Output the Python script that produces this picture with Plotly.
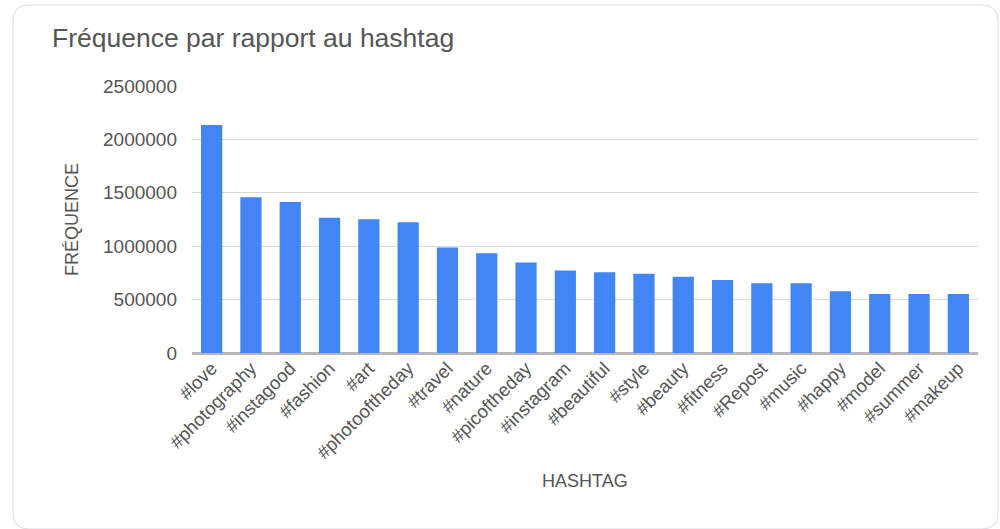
import plotly.graph_objects as go

# Hashtags and their frequency
hashtags = ["#love", "#photography", "#instagood", "#fashion", "#art",
            "#photooftheday", "#travel", "#nature", "#picoftheday", "#instagram",
            "#beautiful", "#style", "#beauty", "#fitness", "#Repost",
            "#music", "#happy", "#model", "#summer", "#makeup"]
frequence = [2135000, 1458000, 1414000, 1267000, 1252000,
             1224000, 988000, 934000, 847000, 772000,
             756000, 741000, 713000, 683000, 653000,
             653000, 578000, 553000, 553000, 553000]
y_ticks = [0, 500000, 1000000, 1500000, 2000000, 2500000]

W, H = 1000, 529
L, R, T, B = 192, 22, 86, 176
pw, ph = W - L - R, H - T - B
FONT = "Liberation Sans, Arial, sans-serif"
GREY = "#555555"


def px(x):
    return (x - L) / pw


def py(y):
    return (H - B - y) / ph


fig = go.Figure(go.Bar(
    x=hashtags, y=frequence,
    marker=dict(color="#4285F4", line=dict(width=0)),
))

# rounded card outline
x0, x1, y0, y1, r = 13, 998, 5, 529, 16
path = (f"M {px(x0 + r)},{py(y0)} L {px(x1 - r)},{py(y0)} "
        f"Q {px(x1)},{py(y0)} {px(x1)},{py(y0 + r)} "
        f"L {px(x1)},{py(y1 - r)} Q {px(x1)},{py(y1)} {px(x1 - r)},{py(y1)} "
        f"L {px(x0 + r)},{py(y1)} Q {px(x0)},{py(y1)} {px(x0)},{py(y1 - r)} "
        f"L {px(x0)},{py(y0 + r)} Q {px(x0)},{py(y0)} {px(x0 + r)},{py(y0)} Z")

fig.update_layout(
    width=W, height=H,
    margin=dict(l=L, r=R, t=T, b=B),
    paper_bgcolor="white", plot_bgcolor="white",
    bargap=0.46,
    showlegend=False,
    font=dict(family=FONT, color=GREY, size=17),
    title=dict(text="Fréquence par rapport au hashtag",
               x=52 / W, xanchor="left", y=1 - 38 / H, yanchor="middle",
               font=dict(size=26.5, color=GREY)),
    shapes=[dict(type="path", path=path, xref="paper", yref="paper",
                 line=dict(color="#dadce0", width=1), fillcolor="rgba(0,0,0,0)",
                 layer="below")],
    annotations=[dict(text="HASHTAG", xref="paper", yref="paper",
                      x=px(585), y=py(493), showarrow=False,
                      font=dict(size=18, color=GREY)),
                 dict(text="FRÉQUENCE", xref="paper", yref="paper",
                      x=px(60), y=py(220), showarrow=False, textangle=-90,
                      font=dict(size=18, color=GREY))],
)

fig.update_xaxes(
    tickangle=-45, showgrid=False, ticks="", showline=False,
    tickfont=dict(size=18.5, color=GREY),
)
fig.update_yaxes(
    range=[0, 2500000], tickvals=y_ticks,
    ticktext=[str(v) for v in y_ticks],
    showgrid=True, gridcolor="#d9d9d9", gridwidth=1,
    zeroline=True, zerolinecolor="#b7b7b7", zerolinewidth=3,
    ticks="", ticklabelstandoff=14,
    tickfont=dict(size=19, color=GREY),
)

fig.write_html("out.html")
